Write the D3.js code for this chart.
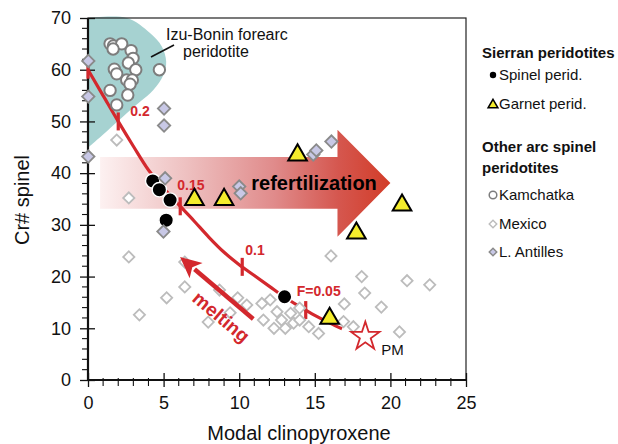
<!DOCTYPE html>
<html><head><meta charset="utf-8">
<script src="https://cdn.jsdelivr.net/npm/d3@7"></script>
<style>
body{margin:0;background:#fff}
svg{display:block;font-family:"Liberation Sans",Arial,Helvetica,sans-serif}
</style>
</head><body>
<svg id="chart" width="618" height="444"></svg>
<script>
// ---- data: modal clinopyroxene (%) vs spinel Cr# ----
// Sierran spinel peridotites
const spinelCpx = [4.28, 4.72, 5.43, 5.17, 13.0];
const spinelCr  = [38.5, 36.8, 34.8, 30.9, 16.1];
// Sierran garnet peridotites
const garnetCpx = [7.04, 9.0, 13.86, 20.77, 17.75, 15.98];
const garnetCr  = [34.9, 34.9, 43.5, 33.8, 28.4, 11.9];
// Kamchatka
const kamCpx = [1.46, 1.68, 2.23, 1.66, 2.85, 2.98, 2.67, 3.16, 1.74, 1.9, 2.56, 2.93, 2.78, 1.46, 2.63, 1.9, 4.72];
const kamCr  = [65.0, 64.6, 65.0, 64.0, 63.7, 62.2, 61.3, 60.0, 60.1, 59.2, 58.0, 58.0, 57.2, 56.0, 55.1, 53.2, 60.0];
// Mexico
const mexCpx = [1.9, 2.7, 2.7, 3.4, 5.2, 6.4, 6.4, 8.7, 7.95, 9.4, 9.9, 10.5, 11.5, 12.05, 11.6, 12.5, 12.8, 13.4, 13.6, 12.3, 13.05, 14.0, 14.0, 14.6, 15.25, 16.9, 17.55, 16.95, 16.07, 18.1, 18.3, 19.4, 21.1, 22.6, 20.6];
const mexCr  = [46.4, 35.2, 23.8, 12.6, 15.9, 18.0, 22.8, 17.4, 11.2, 13.0, 15.9, 14.5, 14.8, 15.5, 11.6, 13.2, 11.6, 12.9, 11.0, 10.0, 10.0, 11.6, 13.9, 10.3, 9.0, 11.3, 10.3, 14.7, 24.0, 20.0, 16.8, 14.1, 19.2, 18.4, 9.3];
// Lesser Antilles
const antCpx = [0.02, 0.02, 0.02, 5.03, 5.03, 5.1, 4.99, 10.0, 10.1, 14.9, 15.1, 16.1];
const antCr  = [61.7, 54.8, 43.2, 52.5, 49.2, 39.0, 28.7, 37.4, 36.1, 43.6, 44.4, 46.1];
// Izu-Bonin forearc peridotite field outline
const izuCpx = [0, 2.58, 4.1, 4.88, 5.17, 4.99, 4.32, 3.44, 2.56, 1.46, 0.58, 0];
const izuCr  = [70, 70, 67.1, 64.5, 61.6, 59.0, 56.1, 53.8, 51.6, 48.7, 46.4, 44.9];
// Fractional melting trend from primitive mantle
const meltCpx = [0, 1, 2, 3, 4, 5, 6, 7, 8, 9, 10, 11, 12, 13, 14, 15, 16, 16.8];
const meltCr  = [60, 55, 50, 45.2, 40.6, 37.1, 33.9, 30.8, 27.6, 24.7, 22.3, 20.2, 18.1, 16.0, 14.2, 12.5, 11.0, 9.9];
const meltTickCpx   = [0, 2, 6.1, 10.2, 14.4];
const meltTickLabel = ["", "0.2", "0.15", "0.1", "F=0.05"];
// Primitive mantle
const pmCpx = [18.34];
const pmCr  = [8.4];
// Axis ticks
const xTicks = [0, 5, 10, 15, 20, 25];
const yTicks = [0, 10, 20, 30, 40, 50, 60, 70];

// ---- layout ----
const RED = "#d3282d";
const svg = d3.select("#chart");
const x = d3.scaleLinear().domain([0, 25]).range([88, 466]);
const y = d3.scaleLinear().domain([0, 70]).range([380, 18]);
const zip = (a, b) => a.map((v, i) => [v, b[i]]);

// Izu-Bonin field
svg.append("path")
  .datum(zip(izuCpx, izuCr))
  .attr("d", d3.line().x(d => x(d[0])).y(d => y(d[1])).curve(d3.curveCatmullRom.alpha(0.5)))
  .attr("fill", "#a6d2d1");

// refertilization arrow (data units)
const ref = {x0: 0.8, x1: 16.5, tip: 20.0, top: 43.1, bot: 33.1, headTop: 48.4, headBot: 27.7, mid: 38.1};
const grad = svg.append("defs").append("linearGradient")
  .attr("id", "refGrad").attr("gradientUnits", "userSpaceOnUse")
  .attr("x1", x(ref.x0)).attr("x2", x(ref.tip)).attr("y1", 0).attr("y2", 0);
[[0, "#fdf1f1"], [0.3, "#eec0c0"], [0.6, "#e08b8b"], [0.82, "#d5574f"], [1, "#d23c28"]]
  .forEach(s => grad.append("stop").attr("offset", s[0]).attr("stop-color", s[1]));
svg.append("path")
  .attr("d", d3.line()([
    [x(ref.x0), y(ref.top)], [x(ref.x1), y(ref.top)], [x(ref.x1), y(ref.headTop)],
    [x(ref.tip), y(ref.mid)], [x(ref.x1), y(ref.headBot)], [x(ref.x1), y(ref.bot)],
    [x(ref.x0), y(ref.bot)]]) + "Z")
  .attr("fill", "url(#refGrad)");
svg.append("text").attr("x", x(14.95)).attr("y", y(ref.mid) + 7)
  .attr("text-anchor", "middle").attr("font-size", 20).attr("font-weight", "bold")
  .text("refertilization");

// frame and axes
svg.append("rect").attr("x", x(0)).attr("y", y(70)).attr("width", x(25) - x(0)).attr("height", y(0) - y(70))
  .attr("fill", "none").attr("stroke", "#222").attr("stroke-width", 1.2);

const xAxis = svg.append("g").attr("transform", `translate(0,${y(0)})`)
  .call(d3.axisBottom(x).tickValues(xTicks).tickSize(6).tickPadding(10).tickFormat(d3.format("d")));
xAxis.select(".domain").remove();
xAxis.selectAll(".tick line").attr("y1", -7).attr("y2", 7).attr("stroke", "#111").attr("stroke-width", 1.3);
xAxis.selectAll("text").attr("font-size", 18).attr("font-family", null).attr("fill", "#111");
xAxis.selectAll(".minor").data(d3.range(1, 25).filter(v => v % 5)).enter().append("line")
  .attr("x1", d => x(d)).attr("x2", d => x(d)).attr("y1", -2).attr("y2", 6)
  .attr("stroke", "#111").attr("stroke-width", 1.1);

const yAxis = svg.append("g").attr("transform", `translate(${x(0)},0)`)
  .call(d3.axisLeft(y).tickValues(yTicks).tickSize(8).tickPadding(9).tickFormat(d3.format("d")));
yAxis.select(".domain").remove();
yAxis.selectAll(".tick line").attr("x1", -8).attr("x2", 7).attr("stroke", "#111").attr("stroke-width", 1.3);
yAxis.selectAll("text").attr("font-size", 18).attr("font-family", null).attr("fill", "#111");
yAxis.selectAll(".minor").data(d3.range(2, 70, 2).filter(v => v % 10)).enter().append("line")
  .attr("y1", d => y(d)).attr("y2", d => y(d)).attr("x1", -6).attr("x2", 0)
  .attr("stroke", "#111").attr("stroke-width", 1.1);

svg.append("line").attr("x1", x(0)).attr("x2", x(25)).attr("y1", y(0)).attr("y2", y(0))
  .attr("stroke", "#111").attr("stroke-width", 2.2);
svg.append("line").attr("x1", x(0)).attr("x2", x(0)).attr("y1", y(0)).attr("y2", y(70))
  .attr("stroke", "#111").attr("stroke-width", 2.2);

svg.append("text").attr("x", 299).attr("y", 440).attr("text-anchor", "middle")
  .attr("font-size", 20).attr("fill", "#111").text("Modal clinopyroxene");
svg.append("text").attr("transform", "translate(29,200) rotate(-90)").attr("text-anchor", "middle")
  .attr("font-size", 20).attr("fill", "#111").text("Cr# spinel");

// melting curve with F ticks
const meltLine = d3.line().x(d => x(d[0])).y(d => y(d[1])).curve(d3.curveMonotoneX);
svg.append("path").datum(zip(meltCpx, meltCr)).attr("d", meltLine)
  .attr("fill", "none").attr("stroke", RED).attr("stroke-width", 3.2);
const crAt = d3.scaleLinear().domain(meltCpx).range(meltCr);
const tickLabelShift = [[0, 0], [12, -5], [-3, -16], [3, -12], [-9, -14]];
meltTickCpx.forEach((c, i) => {
  const px = x(c), py = y(crAt(c));
  svg.append("line").attr("x1", px).attr("x2", px).attr("y1", py - 9).attr("y2", py + 9)
    .attr("stroke", RED).attr("stroke-width", 3.2);
  if (meltTickLabel[i]) svg.append("text")
    .attr("x", px + tickLabelShift[i][0]).attr("y", py + tickLabelShift[i][1])
    .attr("font-size", 14).attr("font-weight", "bold").attr("fill", RED).text(meltTickLabel[i]);
});

// Mexico
const diamond = hd => d3.symbol(d3.symbolSquare, 2 * hd * hd)();
svg.append("g").selectAll("path").data(zip(mexCpx, mexCr)).enter().append("path")
  .attr("d", diamond(5.6)).attr("transform", d => `translate(${x(d[0])},${y(d[1])}) rotate(45)`)
  .attr("fill", "#fff").attr("stroke", "#bcbcbc").attr("stroke-width", 1.8);

// melting arrow
const mFrom = [10.93, 11.8], mTo = [6.09, 23.8];
{
  const x0 = x(mFrom[0]), y0 = y(mFrom[1]), x1 = x(mTo[0]), y1 = y(mTo[1]);
  const len = Math.hypot(x1 - x0, y1 - y0), ux = (x1 - x0) / len, uy = (y1 - y0) / len;
  const hl = 21, hw = 10;
  const bx = x1 - ux * hl, by = y1 - uy * hl;
  svg.append("line").attr("x1", x0).attr("y1", y0).attr("x2", bx + ux * 2).attr("y2", by + uy * 2)
    .attr("stroke", RED).attr("stroke-width", 4.5);
  svg.append("path").attr("d", d3.line()([[x1, y1], [bx - uy * hw, by + ux * hw], [bx + ux * 5, by + uy * 5], [bx + uy * hw, by - ux * hw]]) + "Z")
    .attr("fill", RED);
  svg.append("text").attr("transform", `translate(217,322) rotate(40)`).attr("text-anchor", "middle")
    .attr("font-size", 19).attr("font-weight", "bold").attr("fill", RED).text("melting");
}

// Kamchatka
svg.append("g").selectAll("circle").data(zip(kamCpx, kamCr)).enter().append("circle")
  .attr("cx", d => x(d[0])).attr("cy", d => y(d[1])).attr("r", 5.7)
  .attr("fill", "#fff").attr("stroke", "#7d7d7d").attr("stroke-width", 2);

// Sierran spinel peridotites
svg.append("g").selectAll("circle").data(zip(spinelCpx, spinelCr)).enter().append("circle")
  .attr("cx", d => x(d[0])).attr("cy", d => y(d[1])).attr("r", 7.2)
  .attr("fill", "#000").attr("stroke", "#fff").attr("stroke-width", 1.4);

// Lesser Antilles
svg.append("g").selectAll("path").data(zip(antCpx, antCr)).enter().append("path")
  .attr("d", diamond(6.2)).attr("transform", d => `translate(${x(d[0])},${y(d[1])}) rotate(45)`)
  .attr("fill", "#c8c8e6").attr("stroke", "#8a8a8a").attr("stroke-width", 1.8);

// Sierran garnet peridotites
svg.append("g").selectAll("path").data(zip(garnetCpx, garnetCr)).enter().append("path")
  .attr("d", d3.symbol(d3.symbolTriangle, 150)()).attr("transform", d => `translate(${x(d[0])},${y(d[1])})`)
  .attr("fill", "#f4ec2c").attr("stroke", "#000").attr("stroke-width", 2);

// primitive mantle
svg.selectAll(".pm").data(zip(pmCpx, pmCr)).enter().append("path")
  .attr("d", d3.symbol(d3.symbolStar, 250)()).attr("transform", d => `translate(${x(d[0])},${y(d[1])})`)
  .attr("fill", "#fff").attr("stroke", RED).attr("stroke-width", 1.8);
svg.append("text").attr("x", x(pmCpx[0]) + 16).attr("y", y(pmCr[0]) + 18)
  .attr("font-size", 15).attr("fill", "#111").text("PM");

// Izu-Bonin label
svg.append("line").attr("x1", 151).attr("y1", 57).attr("x2", 174).attr("y2", 45)
  .attr("stroke", "#111").attr("stroke-width", 1.6);
svg.append("text").attr("x", 166).attr("y", 40).attr("font-size", 16).attr("fill", "#111").text("Izu-Bonin forearc");
svg.append("text").attr("x", 183).attr("y", 57).attr("font-size", 16).attr("fill", "#111").text("peridotite");

// legend
const lg = svg.append("g").attr("font-size", 15).attr("fill", "#111");
lg.append("text").attr("x", 482).attr("y", 58).attr("font-weight", "bold").text("Sierran peridotites");
lg.append("text").attr("x", 482).attr("y", 152).attr("font-weight", "bold").text("Other arc spinel");
lg.append("text").attr("x", 482).attr("y", 173).attr("font-weight", "bold").text("peridotites");
const items = [
  {cy: 75, label: "Spinel perid."},
  {cy: 104, label: "Garnet perid."},
  {cy: 195, label: "Kamchatka"},
  {cy: 224, label: "Mexico"},
  {cy: 252, label: "L. Antilles"}
];
items.forEach(it => lg.append("text").attr("x", 499).attr("y", it.cy + 5.4).text(it.label));
lg.append("circle").attr("cx", 493).attr("cy", 75).attr("r", 3.2).attr("fill", "#000");
lg.append("path").attr("d", d3.symbol(d3.symbolTriangle, 42)()).attr("transform", "translate(493,105)")
  .attr("fill", "#f4ec2c").attr("stroke", "#000").attr("stroke-width", 1.5);
lg.append("circle").attr("cx", 493).attr("cy", 195).attr("r", 3.8)
  .attr("fill", "#fff").attr("stroke", "#7d7d7d").attr("stroke-width", 1.5);
lg.append("path").attr("d", diamond(3.8)).attr("transform", "translate(493,224) rotate(45)")
  .attr("fill", "#fff").attr("stroke", "#bcbcbc").attr("stroke-width", 1.4);
lg.append("path").attr("d", diamond(3.8)).attr("transform", "translate(493,252) rotate(45)")
  .attr("fill", "#c8c8e6").attr("stroke", "#8a8a8a").attr("stroke-width", 1.4);
</script>
</body></html>
